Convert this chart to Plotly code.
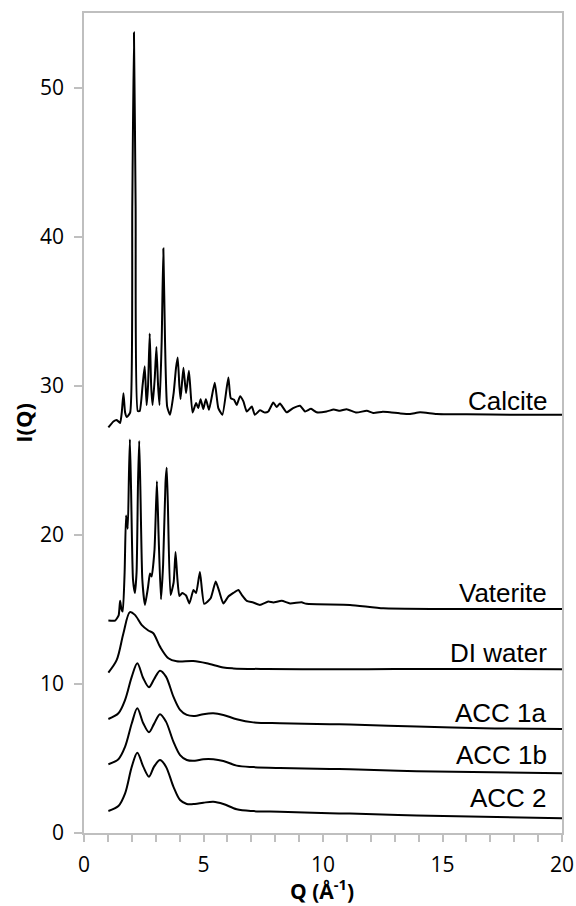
import plotly.graph_objects as go

# ---- data ----
calcite_q = [1.02, 1.23, 1.37, 1.51, 1.58, 1.65, 1.72, 1.79, 1.93, 2.02, 2.09, 2.16, 2.25, 2.33, 2.45, 2.54, 2.62, 2.68, 2.75, 2.81, 2.87,
             2.96, 3.03, 3.1, 3.16, 3.25, 3.32, 3.39, 3.48, 3.60, 3.75, 3.85, 3.92, 3.99, 4.04, 4.16, 4.27, 4.39, 4.54, 4.69, 4.78, 4.88, 4.99,
             5.10, 5.23, 5.47, 5.62, 5.79, 6.04, 6.14, 6.28, 6.39, 6.53, 6.67, 6.81, 7.02, 7.15, 7.36, 7.57,
             7.71, 7.92, 8.06, 8.2, 8.48, 8.75, 9.04, 9.25, 9.5, 9.73, 10.15, 10.45, 10.71, 10.99, 11.4, 11.83,
             12.1, 12.5, 12.8, 13.2, 13.64, 14.06, 14.75, 16.0, 18.0, 20.0]
calcite_i = [27.2, 27.6, 27.7, 27.5, 28.2, 29.5, 28.2, 27.9, 28.2, 42.0, 53.7, 42.0, 28.3, 28.3, 30.0, 31.3, 28.7, 30.0, 33.5, 30.0, 28.7,
             30.5, 32.6, 30.0, 28.7, 33.0, 39.2, 33.0, 28.6, 28.05, 29.5, 31.2, 31.9, 30.0, 29.1, 31.2, 29.5, 31.0, 28.2, 28.84, 28.5, 29.1, 28.44,
             29.1, 28.39, 30.2, 28.5, 28.05, 30.56, 29.17, 29.06, 28.7, 29.3, 28.95, 28.27, 28.6, 28.05, 28.35, 28.2,
             28.27, 28.88, 28.57, 28.8, 28.22, 28.5, 28.66, 28.27, 28.45, 28.22, 28.27, 28.4, 28.32, 28.43, 28.2, 28.32,
             28.17, 28.25, 28.22, 28.15, 28.1, 28.22, 28.1, 28.08, 28.05, 28.05]

vaterite_q = [1.02, 1.3, 1.45, 1.51, 1.57, 1.62, 1.7, 1.76, 1.83, 1.88, 1.92, 1.97, 2.05, 2.13, 2.2, 2.26, 2.31, 2.36, 2.44, 2.55, 2.68, 2.76, 2.83,
              2.95, 3.05, 3.12, 3.22, 3.31, 3.41, 3.46, 3.51, 3.62, 3.75, 3.83, 3.91, 3.99, 4.11, 4.27, 4.41, 4.58, 4.69, 4.85,
              5.03, 5.3, 5.51, 5.66, 5.83, 6.04, 6.25, 6.46, 6.6, 6.81, 7.08, 7.36, 7.71, 7.92, 8.27, 8.62,
              9.1, 9.31, 11.13, 12.52, 14.75, 20.0]
vaterite_i = [14.25, 14.25, 14.6, 15.57, 15.0, 14.85, 17.5, 21.3, 20.4, 24.0, 26.4, 23.0, 17.0, 16.1, 17.5, 23.5, 26.3, 23.0, 17.0, 15.3, 16.5, 17.4, 17.2,
              19.0, 23.6, 20.0, 15.67, 18.0, 23.5, 24.5, 22.0, 15.97, 16.8, 18.84, 17.0, 15.9, 16.1, 15.93, 15.4, 16.3, 16.1, 17.5,
              15.37, 15.75, 16.87, 16.2, 15.4, 15.86, 16.1, 16.3, 15.97, 15.57, 15.46, 15.3, 15.52, 15.46, 15.57, 15.4,
              15.47, 15.37, 15.3, 15.07, 15.03, 15.03]

water_q = [1.02, 1.37, 1.65, 1.92, 2.13, 2.41, 2.69, 2.9, 3.18, 3.53, 3.88, 4.57, 5.13, 5.83, 6.25, 7.64, 10.29,
           13.0, 16.7, 20.0]
water_i = [10.76, 11.61, 13.4, 14.81, 14.63, 13.96, 13.58, 13.4, 12.5, 11.72, 11.52, 11.54, 11.39, 11.1, 11.04,
           11.0, 10.98, 11.0, 11.0, 10.99]

acc1a_q = [1.02, 1.44, 1.72, 2.0, 2.23, 2.48, 2.72, 2.93, 3.18, 3.43, 3.74, 4.02, 4.3, 4.64, 4.99, 5.41, 5.83,
           6.39, 7.08, 8.2, 10.29, 11.13, 13.92, 16.7, 20.0]
acc1a_i = [7.65, 8.03, 8.93, 10.49, 11.39, 10.38, 9.78, 10.31, 10.89, 10.49, 9.15, 8.26, 7.92, 7.85, 7.97, 8.03,
           7.92, 7.63, 7.42, 7.36, 7.3, 7.27, 7.15, 7.03, 6.98]

acc1b_q = [1.02, 1.44, 1.72, 2.0, 2.23, 2.48, 2.72, 2.93, 3.18, 3.43, 3.74, 4.02, 4.3, 4.64, 4.99, 5.41, 5.83,
           6.39, 7.08, 8.2, 10.29, 11.13, 13.92, 20.0]
acc1b_i = [4.61, 4.95, 5.79, 7.36, 8.37, 7.36, 6.76, 7.32, 7.97, 7.47, 6.13, 5.23, 4.9, 4.85, 4.95, 4.95, 4.83,
           4.52, 4.42, 4.36, 4.3, 4.27, 4.15, 4.0]

acc2_q = [1.02, 1.44, 1.72, 2.0, 2.23, 2.48, 2.72, 2.93, 3.18, 3.43, 3.74, 4.02, 4.3, 4.64, 4.99, 5.41, 5.83,
          6.39, 7.08, 8.2, 10.29, 11.13, 13.92, 20.0]
acc2_i = [1.48, 1.81, 2.66, 4.45, 5.39, 4.45, 3.78, 4.45, 4.9, 4.45, 3.11, 2.21, 1.95, 1.95, 2.03, 2.1, 1.95,
          1.59, 1.47, 1.42, 1.32, 1.3, 1.18, 0.99]

label_names = ["Calcite", "Vaterite", "DI water", "ACC 1a", "ACC 1b", "ACC 2"]
label_y = [29.0, 16.1, 12.05, 8.02, 5.23, 2.33]

x_ticks = [0, 5, 10, 15, 20]
y_ticks = [0, 10, 20, 30, 40, 50]

# ---- figure ----
fig = go.Figure()
series = [
    (calcite_q, calcite_i, 0.5),
    (vaterite_q, vaterite_i, 0.5),
    (water_q, water_i, 0.9),
    (acc1a_q, acc1a_i, 0.9),
    (acc1b_q, acc1b_i, 0.9),
    (acc2_q, acc2_i, 0.9),
]
for q, i, sm in series:
    fig.add_trace(go.Scatter(x=q, y=i, mode="lines",
                             line=dict(color="black", width=2, shape="spline", smoothing=sm),
                             showlegend=False, hoverinfo="skip"))

for name, yv in zip(label_names, label_y):
    fig.add_annotation(x=19.45, y=yv, text=name, showarrow=False, xanchor="right", yanchor="middle",
                       font=dict(family="Liberation Sans, Arial", size=26, color="black"))

# axis titles
fig.add_annotation(xref="paper", yref="paper", x=0.498, y=-0.0885, text="<b>Q (Å<sup>-1</sup>)</b>",
                   showarrow=False, xanchor="center", yanchor="bottom", borderpad=0,
                   font=dict(family="Open Sans", size=21, color="black"))
fig.add_annotation(xref="paper", yref="paper", x=-0.128, y=0.5, text="<b>I(Q)</b>", textangle=-90,
                   showarrow=False, xanchor="center", yanchor="middle",
                   font=dict(family="Open Sans", size=22, color="black"))

axis_grey = "#BFBFBF"
fig.update_xaxes(range=[0, 20], tickvals=x_ticks, ticks="outside", ticklen=7, tickwidth=1.5, tickcolor=axis_grey,
                 showline=True, linecolor=axis_grey, linewidth=1.5, mirror=True, showgrid=False, zeroline=False,
                 minor=dict(dtick=1, ticks="outside", ticklen=7, tickwidth=1.5, tickcolor=axis_grey, showgrid=False),
                 tickfont=dict(family="Open Sans", size=21, color="black"), ticklabelstandoff=5,
                 automargin=False)
fig.update_yaxes(range=[0, 55], tickvals=y_ticks, ticks="outside", ticklen=8, tickwidth=1.5, tickcolor=axis_grey,
                 showline=True, linecolor=axis_grey, linewidth=1.5, mirror=True, showgrid=False, zeroline=False,
                 tickfont=dict(family="Open Sans", size=21, color="black"), ticklabelstandoff=6,
                 automargin=False)

fig.update_layout(width=576, height=906, margin=dict(l=84, r=14, t=13, b=73),
                  plot_bgcolor="white", paper_bgcolor="white")

fig.write_html("out.html")
